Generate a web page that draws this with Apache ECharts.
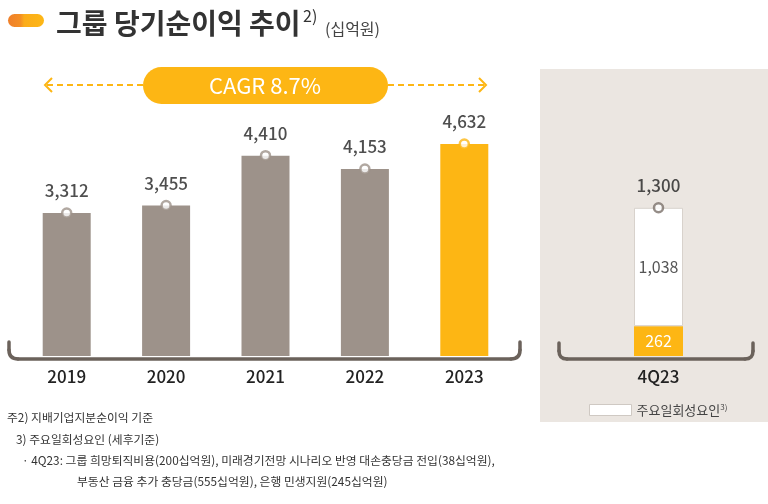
<!DOCTYPE html>
<html>
<head>
<meta charset="utf-8">
<script src="https://cdn.jsdelivr.net/npm/echarts@6/dist/echarts.min.js"></script>
<style>
html,body{margin:0;padding:0;background:#fff;}
#c{width:768px;height:504px;}
</style>
</head>
<body>
<div id="c"></div>
<script>
// ---- data ----
const years = ['2019', '2020', '2021', '2022', '2023'];
const netIncome = [3312, 3455, 4410, 4153, 4632];
const quarters = ['4Q23'];
const quarterRecurring = [262];
const quarterOneOff = [1038];
const quarterTotal = [1300];
const oneOffName = '주요일회성요인';

const GRAY = '#9d928a';
const YELLOW = '#fdb614';
const AXIS = '#6b625b';
const FONT = '"Noto Sans CJK KR", "Noto Sans", sans-serif';
const fmt = v => Number(v).toLocaleString('en-US');

const chart = echarts.init(document.getElementById('c'), null, {renderer: 'canvas'});

const barColors = years.map((y, i) => i === years.length - 1 ? YELLOW : GRAY);

function baseCurve(x0, x1, yTop, yBase, r) {
  const st = {stroke: AXIS, lineWidth: 3.5, fill: null, lineCap: 'round'};
  return [
    {type: 'line', silent: true, z: 6, shape: {x1: x0, y1: yTop, x2: x0, y2: yBase - r}, style: st},
    {type: 'bezierCurve', silent: true, z: 6, shape: {x1: x0, y1: yBase - r, cpx1: x0, cpy1: yBase, x2: x0 + r, y2: yBase}, style: st},
    {type: 'line', silent: true, z: 6, shape: {x1: x0 + r, y1: yBase, x2: x1 - r, y2: yBase}, style: st},
    {type: 'bezierCurve', silent: true, z: 6, shape: {x1: x1 - r, y1: yBase, cpx1: x1, cpy1: yBase, x2: x1, y2: yBase - r}, style: st},
    {type: 'line', silent: true, z: 6, shape: {x1: x1, y1: yBase - r, x2: x1, y2: yTop}, style: st}
  ];
}

const NOTE_FONT = '11.8px ' + FONT;

const option = {
  backgroundColor: '#fff',
  animation: false,
  textStyle: {fontFamily: FONT},
  grid: [
    {left: 17, width: 497, top: 100, height: 256},
    {left: 609, width: 99, top: 128, height: 228}
  ],
  xAxis: [
    {type: 'category', gridIndex: 0, data: years,
     axisLine: {show: false}, axisTick: {show: false},
     axisLabel: {fontSize: 17, fontWeight: 500, color: '#222', margin: 12, fontFamily: FONT}},
    {type: 'category', gridIndex: 1, data: quarters,
     axisLine: {show: false}, axisTick: {show: false},
     axisLabel: {fontSize: 17, fontWeight: 500, color: '#222', margin: 12, fontFamily: FONT}}
  ],
  yAxis: [
    {type: 'value', gridIndex: 0, min: 570, max: 5477, show: false, splitLine: {show: false}},
    {type: 'value', gridIndex: 1, min: 0, max: 2000, show: false, splitLine: {show: false}}
  ],
  legend: {
    show: true, selectedMode: false,
    left: 584, top: 398,
    itemWidth: 42, itemHeight: 11, itemGap: 6,
    data: [{name: oneOffName, icon: 'rect', itemStyle: {color: '#fff', borderColor: '#cfc9c3', borderWidth: 1}}],
    formatter: n => '{a|' + n + '}{s|3)}',
    textStyle: {
      rich: {
        a: {fontSize: 13, color: '#444', fontFamily: FONT},
        s: {fontSize: 8, color: '#444', fontFamily: FONT, verticalAlign: 'top', padding: [0, 0, 6, 0]}
      }
    }
  },
  series: [
    {
      type: 'bar', name: 'netIncome', xAxisIndex: 0, yAxisIndex: 0,
      barWidth: 48,
      data: netIncome.map((v, i) => ({value: v, itemStyle: {color: barColors[i]}})),
      z: 2
    },
    {
      type: 'scatter', name: 'netIncomeMarker', xAxisIndex: 0, yAxisIndex: 0,
      symbol: 'circle', symbolSize: 9,
      data: netIncome.map((v, i) => ({value: v, itemStyle: {color: '#fff', borderColor: barColors[i], borderWidth: 2.5}})),
      label: {show: true, position: 'top', distance: 8, fontSize: 17, fontWeight: 500, color: '#222', fontFamily: FONT,
              formatter: p => fmt(p.value)},
      z: 5
    },
    {
      type: 'bar', name: 'recurring', xAxisIndex: 1, yAxisIndex: 1, stack: 'q',
      barWidth: 49,
      data: quarterRecurring,
      itemStyle: {color: YELLOW},
      label: {show: true, position: 'inside', fontSize: 16, color: '#fff', fontFamily: FONT,
              formatter: p => fmt(p.value)},
      z: 2
    },
    {
      type: 'bar', name: oneOffName, xAxisIndex: 1, yAxisIndex: 1, stack: 'q',
      barWidth: 49,
      data: quarterOneOff,
      itemStyle: {color: '#fff', borderColor: '#d8d2cc', borderWidth: 1},
      label: {show: true, position: 'inside', fontSize: 16, color: '#555', fontFamily: FONT,
              formatter: p => fmt(p.value)},
      z: 2
    },
    {
      type: 'scatter', name: 'quarterMarker', xAxisIndex: 1, yAxisIndex: 1,
      symbol: 'circle', symbolSize: 9,
      data: quarterTotal,
      itemStyle: {color: '#fff', borderColor: '#7a716a', borderWidth: 2.5},
      label: {show: true, position: 'top', distance: 8, fontSize: 17, fontWeight: 500, color: '#222', fontFamily: FONT,
              formatter: p => fmt(p.value)},
      z: 5
    }
  ],
  graphic: [
    // right panel background
    {type: 'rect', z: -10, silent: true, shape: {x: 540, y: 69, width: 228, height: 353}, style: {fill: '#ebe6e1'}},
    // title icon
    {type: 'rect', silent: true, shape: {x: 8, y: 14, width: 36, height: 13, r: 6.5},
     style: {fill: new echarts.graphic.LinearGradient(0, 0, 1, 0, [
       {offset: 0, color: '#ef7f2a'}, {offset: 0.35, color: '#f48f24'}, {offset: 0.45, color: '#fbac1a'}, {offset: 1, color: '#fdb716'}])}},
    {type: 'text', silent: true, style: {x: 56, y: 23, text: '그룹 당기순이익 추이', font: 'bold 28px ' + FONT, fill: '#333', textVerticalAlign: 'middle'}},
    {type: 'text', silent: true, style: {x: 303, y: 16, text: '2)', font: '16px ' + FONT, fill: '#333', textVerticalAlign: 'middle'}},
    {type: 'text', silent: true, style: {x: 325, y: 29, text: '(십억원)', font: '16px ' + FONT, fill: '#444', textVerticalAlign: 'middle'}},
    // CAGR banner
    {type: 'line', silent: true, shape: {x1: 47, y1: 85, x2: 143, y2: 85}, style: {stroke: YELLOW, lineWidth: 2, lineDash: [6, 4]}},
    {type: 'line', silent: true, shape: {x1: 388, y1: 85, x2: 484, y2: 85}, style: {stroke: YELLOW, lineWidth: 2, lineDash: [6, 4]}},
    {type: 'polyline', silent: true, shape: {points: [[52, 78], [45, 85], [52, 92]]}, style: {stroke: YELLOW, lineWidth: 2, fill: null}},
    {type: 'polyline', silent: true, shape: {points: [[479, 78], [486, 85], [479, 92]]}, style: {stroke: YELLOW, lineWidth: 2, fill: null}},
    {type: 'rect', silent: true, shape: {x: 143, y: 67, width: 245, height: 37, r: 18.5}, style: {fill: YELLOW}},
    {type: 'text', silent: true, style: {x: 265, y: 86, text: 'CAGR 8.7%', font: '22px ' + FONT, fill: '#fff', textAlign: 'center', textVerticalAlign: 'middle'}},
    // axis base curves
    ...baseCurve(9, 520, 342, 359, 9),
    ...baseCurve(559, 753, 343, 359, 8),
    // footnotes
    {type: 'text', silent: true, style: {x: 7, y: 418, text: '주2) 지배기업지분순이익 기준', font: NOTE_FONT, fill: '#333', textVerticalAlign: 'middle'}},
    {type: 'text', silent: true, style: {x: 16, y: 440, text: '3) 주요일회성요인 (세후기준)', font: NOTE_FONT, fill: '#333', textVerticalAlign: 'middle'}},
    {type: 'text', silent: true, style: {x: 22, y: 461, text: '· 4Q23: 그룹 희망퇴직비용(200십억원), 미래경기전망 시나리오 반영 대손충당금 전입(38십억원),', font: NOTE_FONT, fill: '#333', textVerticalAlign: 'middle'}},
    {type: 'text', silent: true, style: {x: 77, y: 482, text: '부동산 금융 추가 충당금(555십억원), 은행 민생지원(245십억원)', font: NOTE_FONT, fill: '#333', textVerticalAlign: 'middle'}}
  ]
};
chart.setOption(option);
</script>
</body>
</html>
